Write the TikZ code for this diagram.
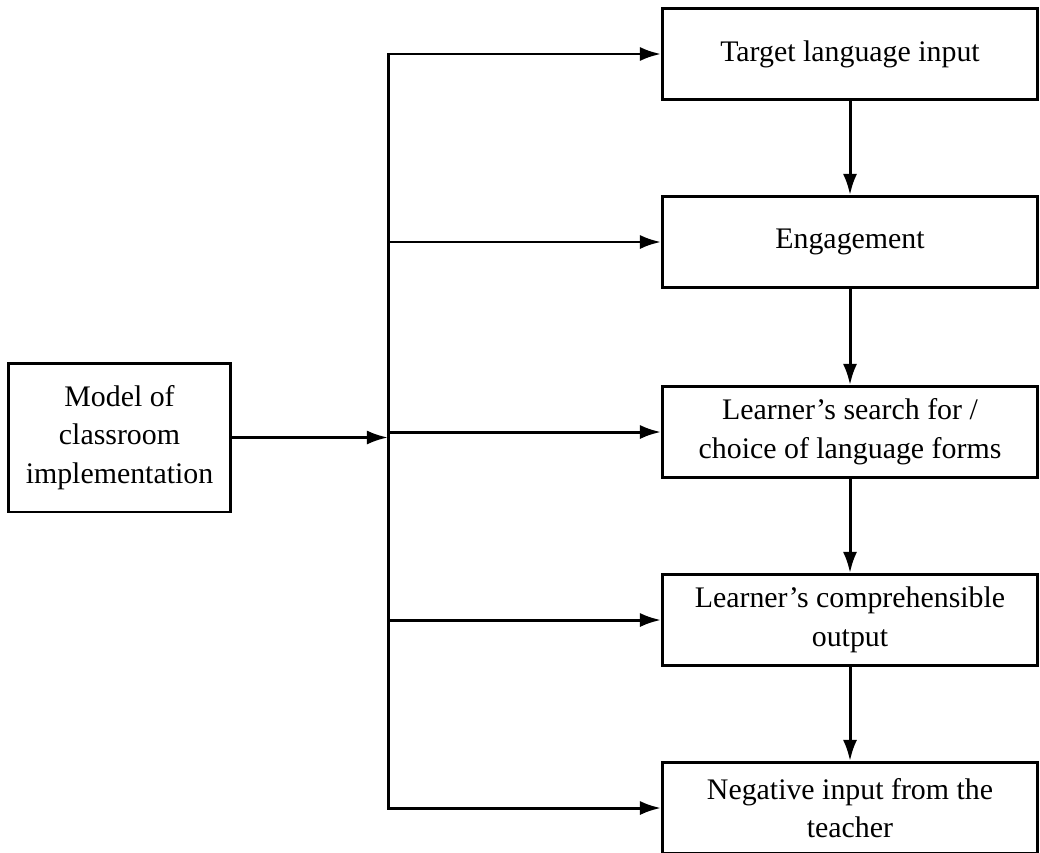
\documentclass[tikz,border=0pt]{standalone}
\usepackage{fontspec}
\setmainfont{Liberation Serif}
\usetikzlibrary{arrows.meta,positioning}

\begin{document}
\begin{tikzpicture}[x=0.02cm,y=-0.02cm,
	box/.style={draw, line width=1.7pt, align=center, inner sep=2pt,
		minimum width=7.5cm, minimum height=1.82cm,
		font=\fontsize{17}{22}\selectfont},
	flow/.style={line width=1.7pt, -{Latex[length=12pt,width=8pt]}}]

	\useasboundingbox (0,0) rectangle (1040,852);
	\clip (0,0) rectangle (1040,852);

	% stages on the right
	\node[box] (input)  at (850,54)  {Target language input};
	\node[box] (engage) at (850,242) {Engagement};
	\node[box] (search) at (850,432) {Learner's search for /\\choice of language forms};
	\node[box] (output) at (850,620) {Learner's comprehensible\\output};
	\node[box] (neg)    at (850,808) {Negative input from the\\teacher};

	% model box on the left
	\node[box, minimum width=4.46cm, minimum height=2.98cm] (model) at (119.5,437.5)
		{Model of\\classroom\\implementation};

	% bus line
	\coordinate (bus) at (388,437.5);
	\draw[line width=1.7pt, line cap=rect] (bus |- input.west) -- (bus |- neg.west);
	\draw[flow] (model) -- (bus);

	% branches
	\foreach \n in {input,engage,search,output,neg}
		\draw[flow] (bus |- \n.west) -- (\n.west);

	% chain
	\draw[flow] (input) -- (engage);
	\draw[flow] (engage) -- (search);
	\draw[flow] (search) -- (output);
	\draw[flow] (output) -- (neg);

\end{tikzpicture}
\end{document}
